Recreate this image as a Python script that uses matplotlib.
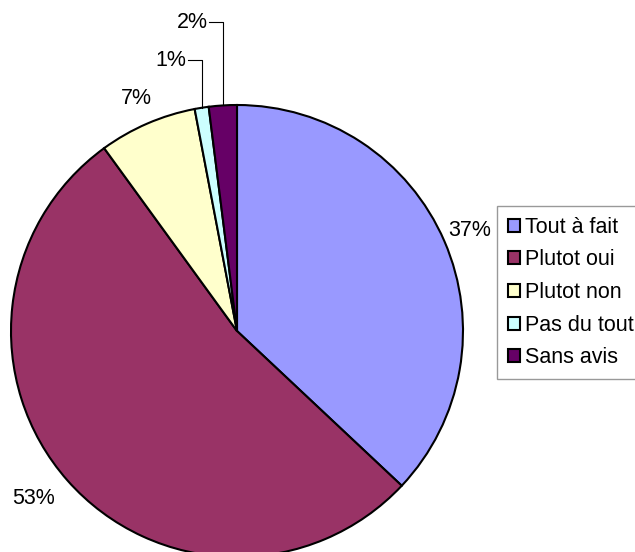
import numpy as np
import matplotlib.pyplot as plt

categories = ['Tout à fait', 'Plutot oui', 'Plutot non', 'Pas du tout', 'Sans avis']
values = [37, 53, 7, 1, 2]
colors = ['#9999FF', '#993366', '#FFFFCC', '#CCFFFF', '#660066']

plt.rcParams['font.family'] = ['Liberation Sans', 'DejaVu Sans']

W, H = 635, 552
fig = plt.figure(figsize=(W / 100, H / 100), dpi=100)
ax = fig.add_axes([0, 0, 1, 1])

# work in pixel units, y up
cx, cy, r = 237, H - 331, 226
wedges, texts, autotexts = ax.pie(
    values, colors=colors, startangle=90, counterclock=False,
    center=(cx, cy), radius=r, autopct=lambda p: f'{p:.0f}%', pctdistance=1.12,
    wedgeprops=dict(edgecolor='black', linewidth=1.5),
    textprops=dict(fontsize=15.5),
)
# the big slice label sits a bit further out
x, y = autotexts[1].get_position()
autotexts[1].set_position((cx + (x - cx) * 1.05 - 4, cy + (y - cy) * 1.0))

# small slices get leader lines
leader_y = {3: H - 60, 4: H - 22}
for i, ly in leader_y.items():
    w = wedges[i]
    ang = np.deg2rad((w.theta1 + w.theta2) / 2)
    ex, ey = cx + r * np.cos(ang), cy + r * np.sin(ang)
    ax.plot([ex, ex, ex - 14], [ey, ly, ly], color='black', lw=0.8)
    autotexts[i].set_position((ex - 15, ly))
    autotexts[i].set_ha('right')
    autotexts[i].set_va('center')

leg = ax.legend(wedges, categories, loc='upper left',
                bbox_to_anchor=(497 / W, 1 - 206 / H), bbox_transform=fig.transFigure,
                fancybox=False, edgecolor='#808080', fontsize=15.5,
                handlelength=0.55, handleheight=0.55, handletextpad=0.25,
                labelspacing=0.54, borderaxespad=0, borderpad=0.5)
leg.get_frame().set_linewidth(1)

ax.set_xlim(0, W)
ax.set_ylim(0, H)
ax.set_aspect('equal')
ax.axis('off')

fig.savefig('out.png', dpi=100)
